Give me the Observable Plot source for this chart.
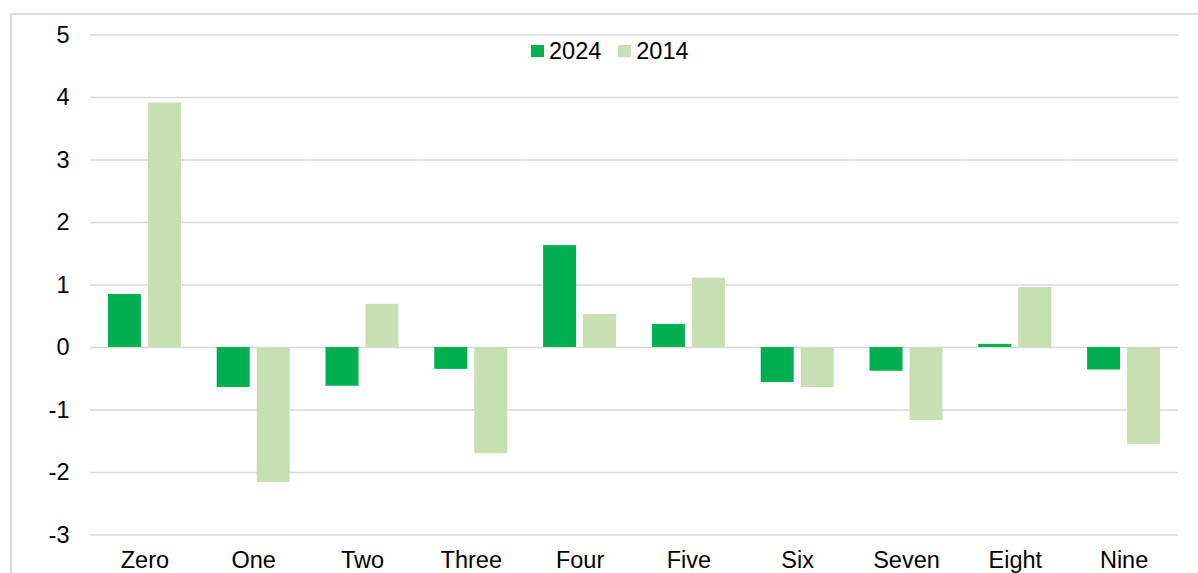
<!DOCTYPE html>
<html>
<head>
<meta charset="utf-8">
<script src="https://cdn.jsdelivr.net/npm/d3@7"></script>
<script src="https://cdn.jsdelivr.net/npm/@observablehq/plot@0.6"></script>
<style>
  html, body { margin: 0; padding: 0; background: #fff; overflow: hidden; }
  body { width: 1198px; height: 573px; position: relative; font-family: "Liberation Sans", Arial, sans-serif; }
  #frame { position: absolute; left: 10px; top: 13px; width: 2000px; height: 2000px; border: 2px solid #d9d9d9; box-sizing: border-box; }
  #chart { position: absolute; left: 0; top: 0; }
  #legend { position: absolute; top: 39px; left: 531px; display: flex; align-items: center; font-size: 23.5px; line-height: 24px; color: #000; }
  .item { display: flex; align-items: center; margin-right: 17px; }
  .sw { width: 13px; height: 12px; margin-right: 5px; }
</style>
</head>
<body>
<div id="frame"></div>
<div id="chart"></div>
<div id="legend"></div>
<script>
const categories = ["Zero", "One", "Two", "Three", "Four", "Five", "Six", "Seven", "Eight", "Nine"];
const seriesNames = ["2024", "2014"];
const values2024 = [0.85, -0.64, -0.62, -0.35, 1.63, 0.37, -0.56, -0.38, 0.05, -0.36];
const values2014 = [3.91, -2.16, 0.69, -1.70, 0.53, 1.11, -0.64, -1.17, 0.96, -1.55];
const seriesColors = ["#00B050", "#C6E0B4"];
const yTicks = [-3, -2, -1, 0, 1, 2, 3, 4, 5];

const data = categories.flatMap((c, i) => [
  {cat: c, series: seriesNames[0], value: values2024[i]},
  {cat: c, series: seriesNames[1], value: values2014[i]}
]);

const chart = Plot.plot({
  width: 1198,
  height: 573,
  marginLeft: 90,
  marginRight: 20,
  marginTop: 34.5,
  marginBottom: 38.5,
  style: {fontFamily: "'Liberation Sans', Arial, sans-serif", fontSize: "23.5px", color: "#000", background: "transparent", overflow: "visible"},
  fx: {domain: categories, padding: 0, round: false, axis: "bottom", tickSize: 0, tickPadding: 16, label: null},
  x: {domain: seriesNames, axis: null, round: false, paddingInner: 0.175, paddingOuter: 0.4475},
  y: {domain: [-3, 5], ticks: yTicks, tickSize: 0, tickPadding: 21, label: null, tickFormat: d => String(d)},
  color: {domain: seriesNames, range: seriesColors},
  marks: [
    Plot.ruleY(yTicks, {stroke: "#d9d9d9", strokeWidth: 1.5}),
    Plot.barY(data, {fx: "cat", x: "series", y: "value", fill: "series"})
  ]
});
document.getElementById("chart").appendChild(chart);

const legend = document.getElementById("legend");
seriesNames.forEach((s, i) => {
  const item = document.createElement("div");
  item.className = "item";
  const sw = document.createElement("div");
  sw.className = "sw";
  sw.style.background = seriesColors[i];
  const t = document.createElement("span");
  t.textContent = s;
  item.appendChild(sw);
  item.appendChild(t);
  legend.appendChild(item);
});
</script>
</body>
</html>
